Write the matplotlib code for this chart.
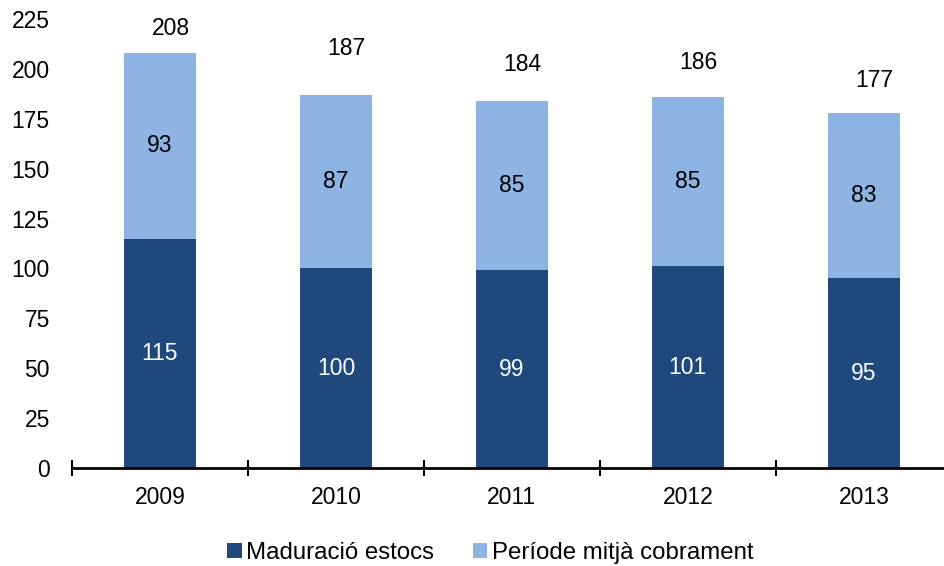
import numpy as np
import matplotlib.pyplot as plt
from matplotlib.ticker import FixedLocator

plt.rcParams['font.family'] = ['Liberation Sans', 'DejaVu Sans']

years = ["2009", "2010", "2011", "2012", "2013"]
maduracio = [115, 100, 99, 101, 95]
periode = [93, 87, 85, 85, 83]
totals = [208, 187, 184, 186, 177]
total_offsets = [12, 23, 18, 17, 17]

dark = "#1F497D"
light = "#8DB4E2"

fig = plt.figure(figsize=(9.45, 5.66), dpi=100)
ax = fig.add_axes([0.0762, 0.1731, 0.931, 0.7933])

x = np.arange(len(years))
w = 0.41
b1 = ax.bar(x, maduracio, w, color=dark, label="Maduració estocs")
b2 = ax.bar(x, periode, w, bottom=maduracio, color=light, label="Període mitjà cobrament")

fs = 16.5
for i in range(len(years)):
    ax.text(x[i], maduracio[i] / 2, str(maduracio[i]), ha="center", va="center",
            color="white", fontsize=fs)
    ax.text(x[i], maduracio[i] + periode[i] / 2, str(periode[i]), ha="center",
            va="center", color="black", fontsize=fs)
    ax.text(x[i] + 0.06, totals[i] + total_offsets[i], str(totals[i]), ha="center",
            va="center", color="black", fontsize=fs)

ax.set_xlim(-0.5, len(years) - 0.5)
ax.set_ylim(0, 225)
ax.set_yticks(range(0, 226, 25))
ax.set_xticks(x)
ax.set_xticklabels(years)
ax.xaxis.set_minor_locator(FixedLocator(np.arange(-0.5, len(years), 1)))

for s in ["top", "right", "left"]:
    ax.spines[s].set_visible(False)
ax.spines["bottom"].set_linewidth(2)
ax.tick_params(axis="y", length=0, pad=16, labelsize=fs)
ax.tick_params(axis="x", which="major", length=0, pad=13, labelsize=fs)
ax.tick_params(axis="x", which="minor", length=11, width=1.5, direction="inout")

fig.legend(handles=[b1, b2], loc="lower center", bbox_to_anchor=(0.519, -0.035),
           ncol=2, frameon=False, fontsize=17.3, handlelength=0.6, handleheight=0.6,
           handletextpad=0.2, columnspacing=1.6)

fig.savefig("out.png", dpi=100)
